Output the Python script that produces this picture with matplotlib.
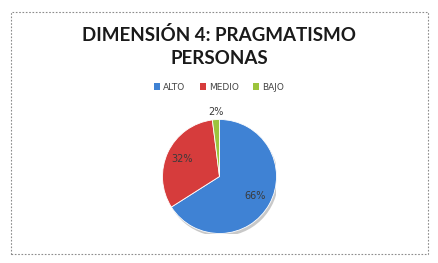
import matplotlib
matplotlib.use("Agg")
import matplotlib.pyplot as plt
from matplotlib.patches import Rectangle, Patch, Circle
import numpy as np

title = "DIMENSIÓN 4: PRAGMATISMO\nPERSONAS"
categories = ["ALTO", "MEDIO", "BAJO"]
values = [66, 32, 2]
colors = ["#3f82d4", "#d63c3c", "#9cc43c"]

fig = plt.figure(figsize=(4.38, 2.63), dpi=100)
W, H = 438, 263

def fx(px):
    return px / W

def fy(py):
    return 1 - py / H

# dashed frame around the chart area
fig.patches.append(Rectangle((fx(11), fy(254)), fx(428) - fx(11), fy(12) - fy(254),
                             transform=fig.transFigure, fill=False,
                             edgecolor="#8c8c8c", linestyle=(0, (1.5, 1.5)),
                             linewidth=0.8))

fig.text(0.5, fy(46.5), title, ha="center", va="center", fontsize=13.5,
         fontweight="bold", family="Lato", color="#1a1a1a", linespacing=1.4)

handles = [Patch(facecolor=c, edgecolor="none") for c in colors]
fig.legend(handles, categories, loc="center", bbox_to_anchor=(0.5, fy(87)),
           ncol=3, frameon=False, handlelength=0.7,
           handleheight=0.7, columnspacing=1.6, handletextpad=0.3,
           prop={"family": "DejaVu Sans", "size": 6.5})
for t in fig.legends[0].get_texts():
    t.set_color("#444444")

cx, cy, r = 219.5, 176.5, 57
ax = fig.add_axes([fx(cx - r), fy(cy + r), 2 * r / W, 2 * r / H])
ax.axis("off")

# soft drop shadow
ax.add_patch(Circle((0.03, -0.05), 1.0, facecolor="#c8c8c8", edgecolor="none", zorder=0))

wedges, texts, autotexts = ax.pie(values, colors=colors, startangle=90,
                                  counterclock=False, autopct="%d%%",
                                  pctdistance=0.72, radius=1.0,
                                  wedgeprops={"linewidth": 0.6, "edgecolor": "#ffffff"},
                                  textprops={"fontsize": 7, "color": "#3a3a3a"})
for w, t in zip(wedges, autotexts):
    if w.theta2 - w.theta1 < 10:
        ang = np.deg2rad((w.theta1 + w.theta2) / 2)
        t.set_position((1.12 * np.cos(ang), 1.13 * np.sin(ang)))

ax.set_xlim(-1.0, 1.0)
ax.set_ylim(-1.0, 1.0)
ax.set_aspect("equal")

fig.savefig("out.png", dpi=100)
